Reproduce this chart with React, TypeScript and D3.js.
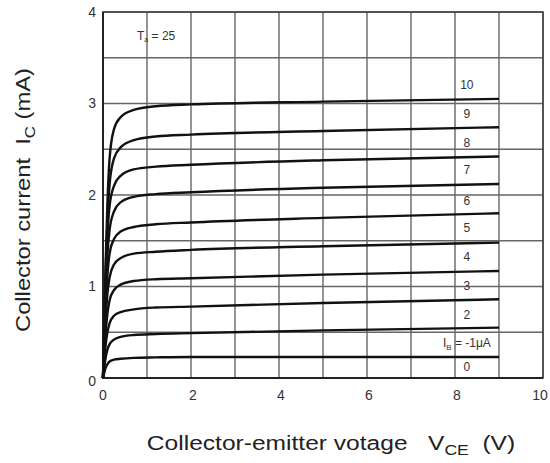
import { useEffect, useRef } from "react"
import * as d3 from "d3"

// collector-emitter voltage sample points (V)
const vce = [0, 0.03, 0.06, 0.1, 0.15, 0.25, 0.4, 0.7, 1.2, 2, 5, 9]

// collector current (mA) for each base-current curve, bottom to top
const ic1 = [0, 0.06, 0.11, 0.15, 0.18, 0.2, 0.21, 0.22, 0.225, 0.23, 0.23, 0.23]
const ic2 = [0, 0.12, 0.22, 0.31, 0.37, 0.42, 0.45, 0.47, 0.48, 0.49, 0.52, 0.55]
const ic3 = [0, 0.2, 0.36, 0.5, 0.6, 0.68, 0.72, 0.75, 0.77, 0.78, 0.82, 0.86]
const ic4 = [0, 0.28, 0.5, 0.7, 0.85, 0.96, 1.02, 1.06, 1.08, 1.09, 1.13, 1.17]
const ic5 = [0, 0.35, 0.65, 0.92, 1.1, 1.24, 1.31, 1.36, 1.38, 1.4, 1.44, 1.48]
const ic6 = [0, 0.42, 0.8, 1.12, 1.36, 1.52, 1.6, 1.65, 1.68, 1.7, 1.75, 1.8]
const ic7 = [0, 0.5, 0.95, 1.35, 1.62, 1.82, 1.92, 1.98, 2.01, 2.03, 2.08, 2.12]
const ic8 = [0, 0.55, 1.05, 1.55, 1.88, 2.1, 2.21, 2.28, 2.31, 2.33, 2.38, 2.42]
const ic9 = [0, 0.6, 1.15, 1.72, 2.12, 2.4, 2.52, 2.6, 2.64, 2.66, 2.7, 2.74]
const ic10 = [0, 0.65, 1.25, 1.9, 2.4, 2.72, 2.85, 2.93, 2.97, 2.99, 3.02, 3.05]
const curves = [ic1, ic2, ic3, ic4, ic5, ic6, ic7, ic8, ic9, ic10]

// curve labels placed between the curves, top to bottom ("" = the I_B label)
const labelText = ["10", "9", "8", "7", "6", "5", "4", "3", "2", "", "0"]
const labelY = [3.2, 2.89, 2.57, 2.27, 1.94, 1.64, 1.32, 1.01, 0.69, 0.39, 0.12]
const labelX = 8.27

const xTicks = [0, 2, 4, 6, 8, 10]
const yTicks = [0, 1, 2, 3, 4]
const xGrid = d3.range(0, 11, 1)
const yGrid = d3.range(0, 4.01, 0.5)

const W = 550
const H = 463
const FONT = "'Liberation Sans', Arial, sans-serif"

export default function App() {
  const svgRef = useRef<SVGSVGElement>(null)

  useEffect(() => {
    if (!svgRef.current) return
    const svg = d3.select(svgRef.current)
    svg.selectAll("*").remove()

    const x = d3.scaleLinear().domain([0, 10]).range([103, 543])
    const y = d3.scaleLinear().domain([0, 4]).range([378, 12])

    svg.append("rect").attr("width", W).attr("height", H).attr("fill", "#fff")

    // grid
    const grid = svg.append("g").attr("stroke", "#666").attr("stroke-width", 1.4)
    xGrid.forEach((v) => {
      grid.append("line").attr("x1", x(v)).attr("x2", x(v)).attr("y1", y(0)).attr("y2", y(4))
    })
    yGrid.forEach((v) => {
      grid.append("line").attr("x1", x(0)).attr("x2", x(10)).attr("y1", y(v)).attr("y2", y(v))
    })

    // frame
    svg
      .append("rect")
      .attr("x", x(0))
      .attr("y", y(4))
      .attr("width", x(10) - x(0))
      .attr("height", y(0) - y(4))
      .attr("fill", "none")
      .attr("stroke", "#444")
      .attr("stroke-width", 1.6)
    svg
      .append("path")
      .attr("d", `M${x(0)},${y(4)}V${y(0)}H${x(10)}`)
      .attr("fill", "none")
      .attr("stroke", "#222")
      .attr("stroke-width", 2)

    // curves
    const line = d3
      .line<number>()
      .x((_, i) => x(vce[i]))
      .y((d) => y(d))
      .curve(d3.curveMonotoneX)

    svg
      .append("g")
      .selectAll("path")
      .data(curves)
      .join("path")
      .attr("d", (d) => line(d))
      .attr("fill", "none")
      .attr("stroke", "#111")
      .attr("stroke-width", 2.4)

    // curve labels
    const labels = svg.append("g").attr("font-family", FONT).attr("font-size", 12).attr("fill", "#333")
    labelText.forEach((t, i) => {
      const tx = labels
        .append("text")
        .attr("x", x(labelX))
        .attr("y", y(labelY[i]))
        .attr("dy", "0.35em")
        .attr("text-anchor", "middle")
      if (t === "") {
        tx.append("tspan").text("I")
        tx.append("tspan").attr("font-size", 8).attr("dy", 3).text("B")
        tx.append("tspan").attr("dy", -3).text(" = -1μA")
      } else {
        tx.text(t)
      }
    })

    // Ta label
    const ta = svg
      .append("text")
      .attr("x", 137)
      .attr("y", 40)
      .attr("font-family", FONT)
      .attr("font-size", 12)
      .attr("fill", "#333")
    ta.append("tspan").text("T")
    ta.append("tspan").attr("font-size", 7).attr("dy", 2).text("a")
    ta.append("tspan").attr("dy", -2).text(" = 25")

    // tick labels
    const ticks = svg.append("g").attr("font-family", FONT).attr("font-size", 14).attr("fill", "#333")
    xTicks.forEach((v) => {
      ticks
        .append("text")
        .attr("x", x(v) + (v === 10 ? -3 : v === 0 ? 0 : 2))
        .attr("y", 400)
        .attr("text-anchor", "middle")
        .text(v)
    })
    yTicks.forEach((v) => {
      ticks
        .append("text")
        .attr("x", 96)
        .attr("y", y(v) + (v === 0 ? 3 : 0))
        .attr("dy", "0.35em")
        .attr("text-anchor", "end")
        .text(v)
    })

    // axis titles
    const xt = svg
      .append("text")
      .attr("transform", "translate(331, 450) scale(1.17, 1)")
      .attr("text-anchor", "middle")
      .attr("font-family", FONT)
      .attr("font-size", 21)
      .attr("fill", "#222")
      .style("white-space", "pre")
    xt.append("tspan").text("Collector-emitter votage   V")
    xt.append("tspan").attr("font-size", 15).attr("dy", 5).text("CE")
    xt.append("tspan").attr("dy", -5).text("  (V)")

    const yt = svg
      .append("text")
      .attr("transform", "translate(30, 200) rotate(-90) scale(1.13, 1)")
      .attr("text-anchor", "middle")
      .attr("font-family", FONT)
      .attr("font-size", 21)
      .attr("fill", "#222")
      .style("white-space", "pre")
    yt.append("tspan").text("Collector current  I")
    yt.append("tspan").attr("font-size", 15).attr("dy", 5).text("C")
    yt.append("tspan").attr("dy", -5).text(" (mA)")
  }, [])

  return (
    <div style={{ position: "absolute", left: 0, top: 0 }}>
      <svg ref={svgRef} width={W} height={H} style={{ display: "block" }} />
    </div>
  )
}
